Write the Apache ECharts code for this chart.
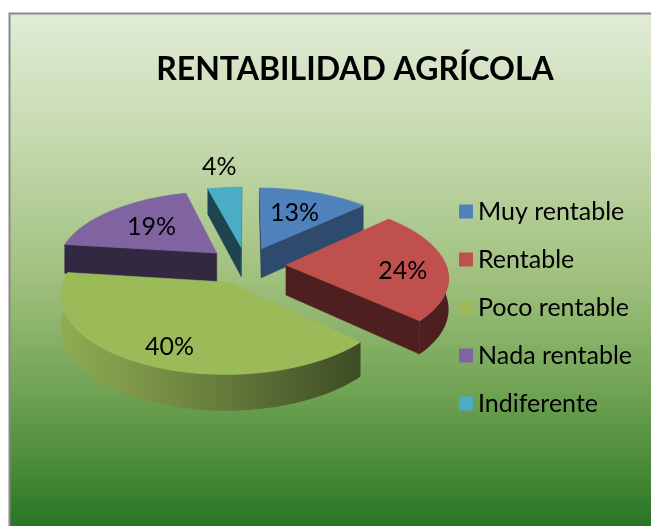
<!DOCTYPE html>
<html>
<head>
<meta charset="utf-8">
<script src="https://cdn.jsdelivr.net/npm/echarts@6/dist/echarts.min.js"></script>
<style>
  html, body { margin: 0; padding: 0; background: #fff; }
  #main { width: 651px; height: 526px; }
</style>
</head>
<body>
<div id="main"></div>
<script>
const categories = ['Muy rentable', 'Rentable', 'Poco rentable', 'Nada rentable', 'Indiferente']
const values = [13, 24, 40, 19, 4]
const colors = ['#4f81bd', '#c0504d', '#9bbb59', '#8064a2', '#4bacc6']

const FONT = 'Lato'
// fake 3D pie: center, radius, tilt, thickness, explode distance, perspective
const PIE = { cx: 246, cy: 265, r: 160, tilt: 0.46, depth: 30, explode: 40, persp: 0.143 }

const total = values.reduce((a, b) => a + b, 0)

function shade(hex, k) {
  const n = parseInt(hex.slice(1), 16)
  const r = Math.round(((n >> 16) & 255) * k)
  const g = Math.round(((n >> 8) & 255) * k)
  const b = Math.round((n & 255) * k)
  return `rgb(${r},${g},${b})`
}

function project(theta, rr, h, mid) {
  const u = PIE.r * rr * Math.sin(theta) + PIE.explode * Math.sin(mid)
  const v = -PIE.r * rr * Math.cos(theta) - PIE.explode * Math.cos(mid)
  const s = 1 / (1 - PIE.persp * v / PIE.r)
  return [PIE.cx + s * u, PIE.cy + s * (v * PIE.tilt + h * PIE.depth)]
}

function signedArea(pts) {
  let a = 0
  for (let i = 0; i < pts.length; i++) {
    const p = pts[i], q = pts[(i + 1) % pts.length]
    a += p[0] * q[1] - q[0] * p[1]
  }
  return a
}

function arc(a0, a1, h, mid) {
  const n = Math.max(4, Math.ceil((a1 - a0) / (Math.PI / 90)))
  const pts = []
  for (let k = 0; k <= n; k++) pts.push(project(a0 + (a1 - a0) * k / n, 1, h, mid))
  return pts
}

function sliceRenderer(i) {
  return function (params, api) {
    let before = 0
    for (let j = 0; j < i; j++) before += values[j]
    const start = before / total * Math.PI * 2
    const end = (before + api.value(0)) / total * Math.PI * 2
    const mid = (start + end) / 2
    const color = colors[i]
    const children = []

    const apexT = project(0, 0, 0, mid)
    const apexB = project(0, 0, 1, mid)
    const poly = (points, fill) => children.push({
      type: 'polygon', shape: { points }, style: { fill, stroke: fill, lineWidth: 0.6 }
    })

    // radial walls
    const startWall = [apexT, project(start, 1, 0, mid), project(start, 1, 1, mid), apexB]
    const endWall = [project(end, 1, 0, mid), apexT, apexB, project(end, 1, 1, mid)]
    if (signedArea(startWall) < 0) poly(startWall, shade(color, Math.sin(start - Math.PI / 2) > 0 ? 0.58 : 0.4))
    if (signedArea(endWall) < 0) poly(endWall, shade(color, Math.sin(end + Math.PI / 2) > 0 ? 0.58 : 0.4))

    // outer wall (front half only)
    const a0 = Math.max(start, Math.PI / 2)
    const a1 = Math.min(end, Math.PI * 1.5)
    if (a1 > a0) {
      const pts = arc(a0, a1, 0, mid).concat(arc(a0, a1, 1, mid).reverse())
      const grad = new echarts.graphic.LinearGradient(63, 0, 360, 0, [
        { offset: 0, color: shade(color, 0.92) },
        { offset: 0.5, color: shade(color, 0.68) },
        { offset: 1, color: shade(color, 0.4) }
      ], true)
      children.push({ type: 'polygon', shape: { points: pts }, style: { fill: grad } })
    }

    // top face
    poly([apexT].concat(arc(start, end, 0, mid)), color)

    // value label: small slices outside, big ones further out
    const v = values[i]
    const rr = v < 10 ? 1.4 : v >= 20 ? 0.73 : 0.6
    const lp = project(mid, rr, v >= 20 ? 0.2 : 0, mid)
    children.push({
      type: 'text', x: lp[0], y: lp[1],
      style: { text: v + '%', fill: '#000', fontSize: 25, fontFamily: FONT, align: 'center', verticalAlign: 'middle' }
    })
    return { type: 'group', children }
  }
}

// paint back slices first
const depthOrder = values.map((v, i) => {
  let before = 0
  for (let j = 0; j < i; j++) before += values[j]
  const mid = (before + v / 2) / total * Math.PI * 2
  return { i, d: -Math.cos(mid) }
}).sort((a, b) => a.d - b.d).map(o => o.i)

const series = categories.map((name, i) => ({
  type: 'custom',
  name,
  coordinateSystem: 'none',
  silent: true,
  z: 2 + depthOrder.indexOf(i),
  itemStyle: { color: colors[i] },
  renderItem: sliceRenderer(i),
  data: [[values[i]]]
}))

const chart = echarts.init(document.getElementById('main'))
chart.setOption({
  animation: false,
  backgroundColor: '#fff',
  graphic: [{
    type: 'rect',
    z: -10,
    silent: true,
    shape: { x: 9.5, y: 13.5, width: 660, height: 530 },
    style: {
      fill: new echarts.graphic.LinearGradient(0, 0, 0, 1, [
        { offset: 0, color: '#e1ecd7' },
        { offset: 0.25, color: '#c4d8ac' },
        { offset: 0.5, color: '#a0c07e' },
        { offset: 0.7, color: '#73a556' },
        { offset: 0.85, color: '#4a8b39' },
        { offset: 1, color: '#1f6e1f' }
      ]),
      stroke: '#8a8a8a',
      lineWidth: 2
    }
  }],
  title: {
    text: 'RENTABILIDAD AGRÍCOLA',
    left: 350,
    top: 49,
    textAlign: 'center',
    textStyle: { fontFamily: FONT, fontWeight: 'bold', fontSize: 32, color: '#000' }
  },
  legend: {
    data: categories,
    orient: 'vertical',
    left: 454,
    top: 193,
    icon: 'rect',
    itemWidth: 14,
    itemHeight: 14,
    itemGap: 21,
    selectedMode: false,
    textStyle: { fontFamily: FONT, fontSize: 25, lineHeight: 27, color: '#000' }
  },
  series
})
</script>
</body>
</html>
